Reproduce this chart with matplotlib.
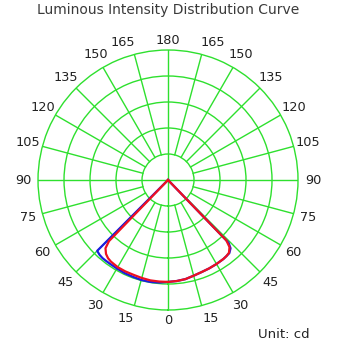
#!/usr/bin/env python3
import numpy as np
import matplotlib
matplotlib.use("Agg")
import matplotlib.pyplot as plt

# gamma angles (deg) from nadir, intensity in cd; nothing above the cut-off
gamma = [0, 5, 10, 15, 20, 25, 30, 35, 37.5, 40, 42.5, 44, 45, 46]
c0_left = [392, 396, 398, 398, 396, 395, 393, 392, 392, 392, 390, 387, 385, 0]
c0_right = [392, 390, 387, 381, 377, 375, 373, 371, 369, 367, 356, 335, 0, 0]
c90_left = [392, 392, 392, 390, 388, 388, 387, 383, 379, 371, 356, 327, 0, 0]
c90_right = [392, 390, 387, 381, 377, 375, 373, 371, 369, 365, 350, 323, 0, 0]

ring_step = 100
r_max = 500
angle_ticks = list(range(0, 181, 15))

GRID = "#2ee02e"
PX = r_max / 130.0  # data units per pixel of radius


def full_curve(left, right):
    # left side uses negative angles, right side positive
    th = [-g for g in gamma[::-1]] + gamma[1:]
    r = left[::-1] + right[1:]
    return np.radians(th), np.array(r)


def main():
    fig = plt.figure(figsize=(3.37, 3.43), dpi=100)
    ax = fig.add_axes([0.1128, 0.0962, 0.7715, 0.758], projection="polar")
    ax.set_theta_zero_location("S")
    ax.set_theta_direction(1)
    ax.set_ylim(0, r_max)

    # rings
    ax.set_rgrids(np.arange(ring_step, r_max, ring_step), labels=[])
    ax.yaxis.grid(True, color=GRID, lw=1.0)
    ax.xaxis.grid(False)
    ax.set_xticks([])
    ax.spines["polar"].set_color(GRID)
    ax.spines["polar"].set_linewidth(1.0)

    # spokes every 15 deg, starting at the first ring; axis lines go through
    for a in range(0, 360, 15):
        t = np.radians(a)
        r0 = 0 if a % 90 == 0 else ring_step
        ax.plot([t, t], [r0, r_max], color=GRID, lw=1.0, zorder=1)

    # angle labels on both sides
    for a in angle_ticks:
        for s in (1, -1):
            if s == -1 and a in (0, 180):
                continue
            rad = 140 if a in (0, 180) else 145
            pos = a
            if a == 15:
                pos = 17
            elif a == 165:
                pos = 162
            ax.text(np.radians(s * pos), rad * PX, str(a), ha="center",
                    va="center", fontsize=9.3, color="#222222", clip_on=False)

    th, r = full_curve(c0_left, c0_right)
    ax.plot(th, r, color="#1c1ce0", lw=1.6, zorder=3)
    th, r = full_curve(c90_left, c90_right)
    ax.plot(th, r, color="#ee1020", lw=1.6, zorder=4)

    fig.text(0.5, 1 - 10 / 343, "Luminous Intensity Distribution Curve",
             ha="center", va="center", fontsize=10, color="#3a3a3a")
    fig.text(310 / 337, 1 - 334 / 343, "Unit: cd", ha="right", va="center",
             fontsize=9.5, color="#222222")

    fig.savefig("out.png", dpi=100)
    plt.close(fig)


if __name__ == "__main__":
    main()
